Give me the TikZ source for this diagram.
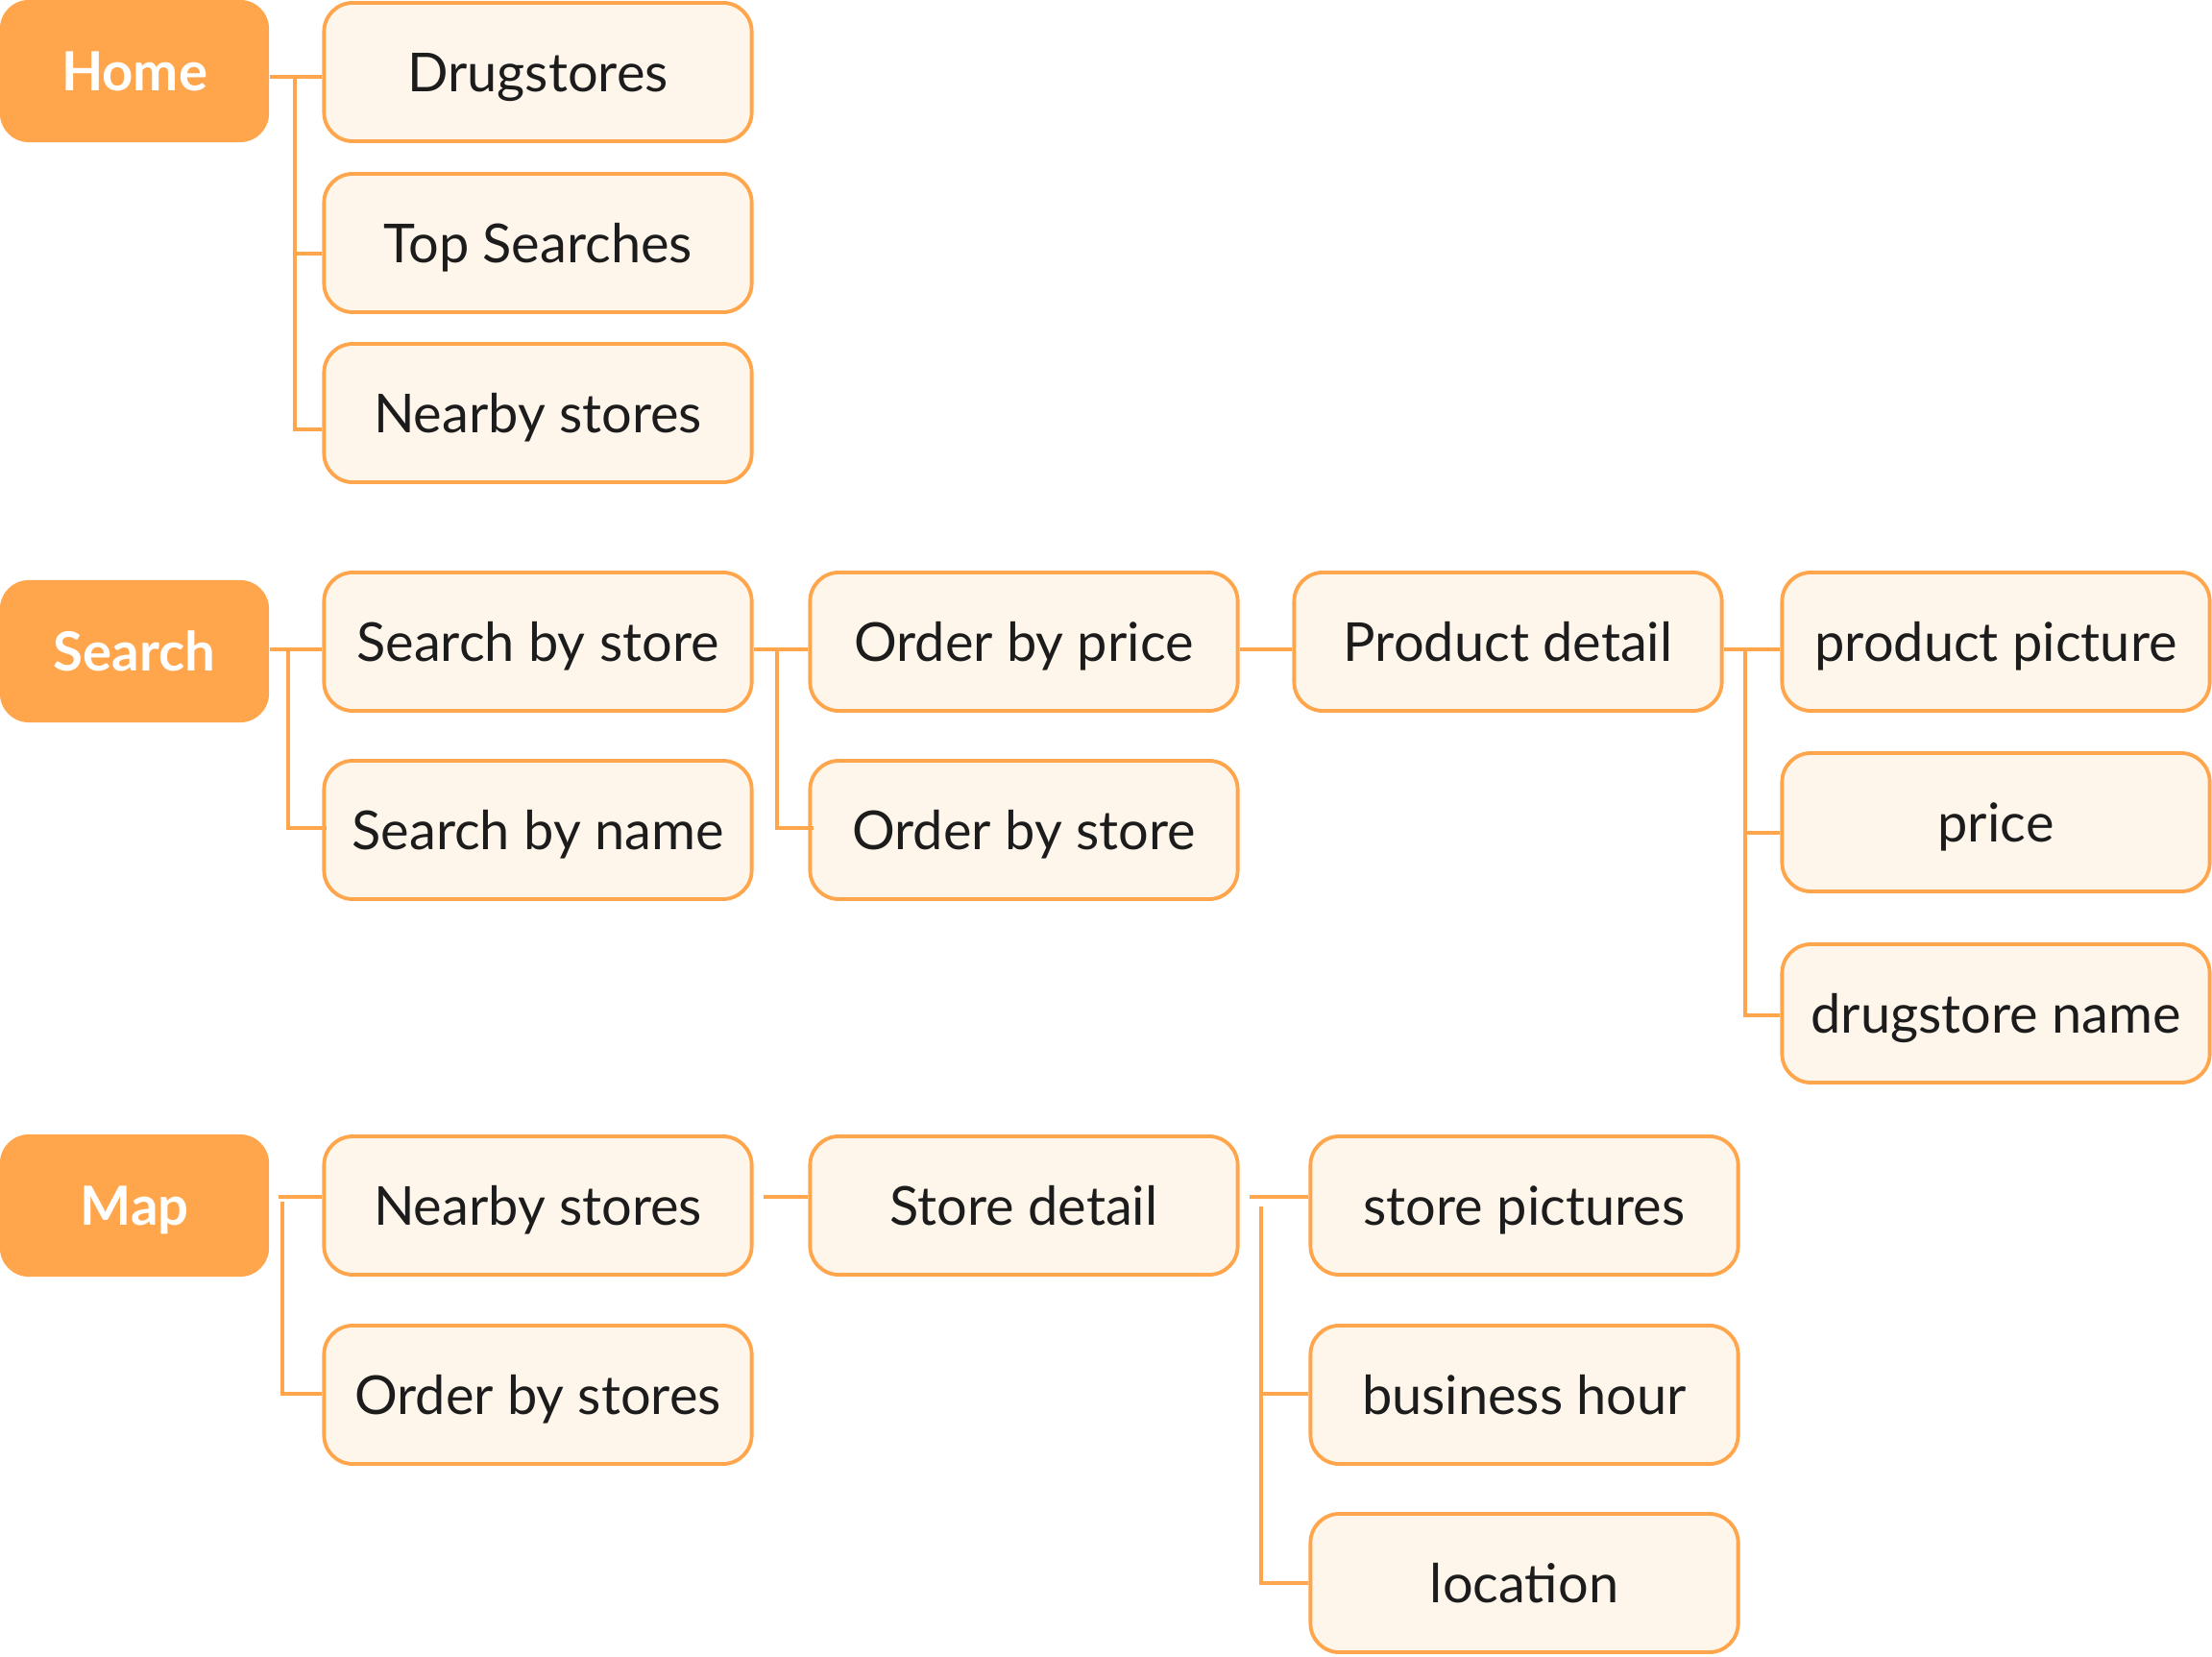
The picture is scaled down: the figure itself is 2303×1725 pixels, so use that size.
\documentclass[tikz,border=0pt]{standalone}
\usepackage{fontspec}
\setmainfont{Lato}
\definecolor{orng}{HTML}{FFA64D}
\definecolor{pale}{HTML}{FFF6EB}
\definecolor{ink}{HTML}{1C1C1C}
\begin{document}
\begin{tikzpicture}[x=0.01cm,y=-0.01cm,
  leaf/.style={draw=orng,fill=pale,line width=1.1pt,rounded corners=0.3cm,
    minimum width=4.45cm,minimum height=1.44cm,inner sep=0pt,
    text height=11.4pt,text depth=0pt,
    font=\fontsize{15.9}{18}\selectfont,text=ink},
  rootbox/.style={fill=orng,rounded corners=0.3cm,
    minimum width=2.80cm,minimum height=1.48cm,inner sep=0pt,
    text height=11.6pt,text depth=0pt,
    font=\fontsize{16}{19}\selectfont\bfseries,text=white},
  conn/.style={draw=orng,line width=0.9pt}]
\useasboundingbox (0,0) rectangle (2303,1725);
% Home
\node[rootbox] (home) at (140,74) {Home};
\node[leaf] (drug) at (560,75) {Drugstores};
\node[leaf] (tops) at (560,253) {Top Searches};
\node[leaf] (nearh) at (560,430) {Nearby stores};
% Search
\node[rootbox] (search) at (140,678) {Search};
\node[leaf] (sbs) at (560,668) {Search by store};
\node[leaf] (sbn) at (560,864) {Search by name};
\node[leaf] (obp) at (1066,668) {Order by price};
\node[leaf] (obs) at (1066,864) {Order by store};
\node[leaf] (pd) at (1570,668) {Product detail};
\node[leaf] (pp) at (2078,668) {product picture};
\node[leaf] (pr) at (2078,856) {price};
\node[leaf] (dn) at (2078,1055) {drugstore name};
% Map
\node[rootbox] (map) at (140,1255) {Map};
\node[leaf] (nearm) at (560,1255) {Nearby stores};
\node[leaf] (obst) at (560,1452) {Order by stores};
\node[leaf] (sd) at (1066,1255) {Store detail};
\node[leaf] (sp) at (1587,1255) {store pictures};
\node[leaf] (bh) at (1587,1452) {business hour};
\node[leaf] (loc) at (1587,1648) {location};
% Home connectors
\coordinate (hf) at (307,80);
\draw[conn] (home.east |- hf) -- (drug.west |- hf);
\draw[conn] (hf) |- (tops.west |- 0,264);
\draw[conn] (hf) |- (nearh.west |- 0,447);
% Search connectors
\coordinate (sf) at (300,676);
\draw[conn] (search.east |- sf) -- (sbs.west |- sf);
\draw[conn] (sf) |- ([xshift=0.05cm]sbn.west |- 0,862);
\coordinate (of) at (809,676);
\draw[conn] (sbs.east |- of) -- (obp.west |- of);
\draw[conn] (of) |- ([xshift=0.06cm]obs.west |- 0,862);
\draw[conn] (obp.east |- of) -- (pd.west |- of);
\coordinate (pf) at (1817,676);
\draw[conn] (pd.east |- pf) -- (pp.west |- pf);
\draw[conn] (pf) |- (pr.west |- 0,867);
\draw[conn] (pf) |- (dn.west |- 0,1057);
% Map connectors
\coordinate (mf) at (294,1246);
\draw[conn] ([xshift=0.09cm]map.east |- mf) -- (nearm.west |- mf);
\draw[conn] (294,1251) |- (obst.west |- 0,1451);
\draw[conn] ([xshift=0.10cm]nearm.east |- mf) -- (sd.west |- mf);
\draw[conn] ([xshift=0.10cm]sd.east |- mf) -- (sp.west |- mf);
\draw[conn] (1313,1256) |- (bh.west |- 0,1451);
\draw[conn] (1313,1256) |- (loc.west |- 0,1648);
\end{tikzpicture}
\end{document}
